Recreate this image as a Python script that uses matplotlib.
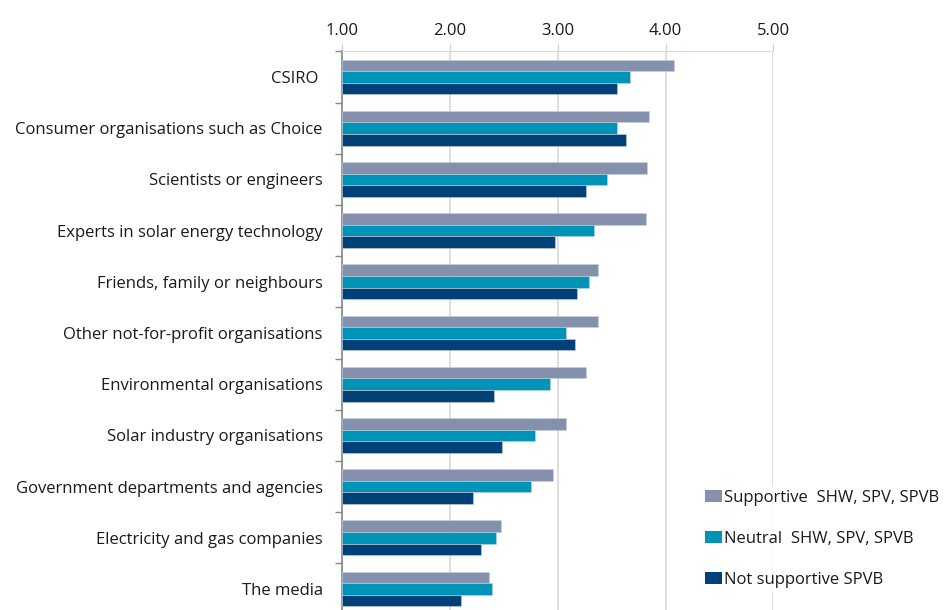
import numpy as np
import matplotlib
matplotlib.use("Agg")
import matplotlib.pyplot as plt
from matplotlib.patches import Patch

plt.rcParams['font.family'] = ['Open Sans', 'DejaVu Sans']

sources = [
    "CSIRO ",
    "Consumer organisations such as Choice",
    "Scientists or engineers",
    "Experts in solar energy technology",
    "Friends, family or neighbours",
    "Other not-for-profit organisations",
    "Environmental organisations",
    "Solar industry organisations",
    "Government departments and agencies",
    "Electricity and gas companies",
    "The media",
]
supportive = [4.08, 3.85, 3.83, 3.82, 3.37, 3.37, 3.26, 3.08, 2.96, 2.47, 2.36]
neutral = [3.67, 3.55, 3.46, 3.34, 3.29, 3.08, 2.93, 2.79, 2.75, 2.43, 2.39]
not_supportive = [3.55, 3.63, 3.26, 2.97, 3.18, 3.16, 2.41, 2.48, 2.21, 2.29, 2.10]

series_names = ["Supportive  SHW, SPV, SPVB", "Neutral  SHW, SPV, SPVB", "Not supportive SPVB"]
series_colors = ["#8490ac", "#0093b8", "#004177"]
x_ticks = [1, 2, 3, 4, 5]

fig = plt.figure(figsize=(9.46, 6.10), dpi=100)
ax = fig.add_axes([0.3618, -0.0074, 0.4556, 0.923])

pos = np.arange(len(sources))
h = 0.226
for i, (vals, col) in enumerate(zip([supportive, neutral, not_supportive], series_colors)):
    ax.barh(pos + (i - 1) * h, np.array(vals) - 1, left=1, height=h,
            color=col, edgecolor="#c8d4e0", linewidth=0.4, zorder=3)

ax.set_xlim(1, 5)
ax.set_ylim(len(sources) - 0.5, -0.5)
ax.xaxis.tick_top()
ax.set_xticks(x_ticks)
ax.set_xticklabels([f"{t:.2f}" for t in x_ticks], fontsize=12, color="#1a1a1a")
ax.tick_params(axis="x", length=6, color="#d0d0d0", pad=3)
ax.grid(axis="x", color="#d9d9d9", linewidth=1.2, zorder=0)

ax.set_yticks(pos)
ax.set_yticklabels(sources, fontsize=12, color="#1a1a1a")
ax.set_yticks(np.arange(len(sources) + 1) - 0.5, minor=True)
ax.tick_params(axis="y", which="major", length=0, pad=14)
ax.tick_params(axis="y", which="minor", length=5, color="#888888", width=1)

for s in ["right", "bottom"]:
    ax.spines[s].set_visible(False)
ax.spines["top"].set_color("#d9d9d9")
ax.spines["left"].set_color("#888888")
ax.spines["left"].set_linewidth(1.2)

handles = [Patch(facecolor=c, edgecolor="none") for c in series_colors]
leg = fig.legend(handles, series_names, loc="upper left", bbox_to_anchor=(0.742, 0.203),
                 frameon=True, fontsize=12, handlelength=1.0, handleheight=0.75,
                 handletextpad=0.15, labelspacing=1.5, borderpad=0.2, borderaxespad=0)
leg.get_frame().set_edgecolor("none")
leg.get_frame().set_facecolor("white")
for t in leg.get_texts():
    t.set_color("#1a1a1a")

fig.savefig("out.png", dpi=100)
